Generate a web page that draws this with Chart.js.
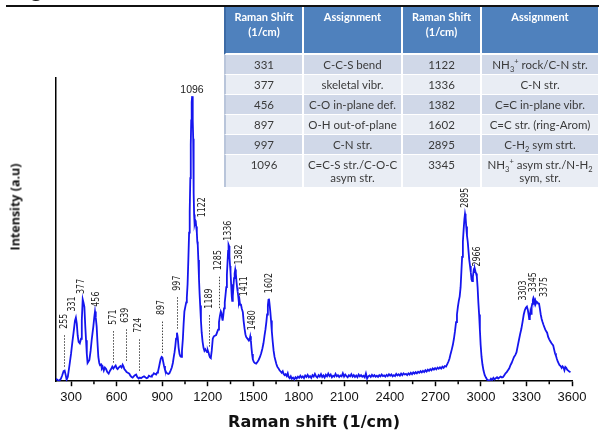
<!DOCTYPE html>
<html>
<head>
<meta charset="utf-8">
<script src="https://cdn.jsdelivr.net/npm/chart.js@4.4.1/dist/chart.umd.min.js"></script>
<style>
  body { margin: 0; background: #fff; }
  #wrap { position: relative; width: 599px; height: 432px; overflow: hidden; background: #fff; }
  #rule { position: absolute; left: 6px; top: 5px; width: 593px; height: 1.5px; background: #111; }
  #frag { position: absolute; left: 31px; top: -21px; font: 20px "Open Sans", sans-serif; line-height: 20px; color: #111; }
  #ytitle { position: absolute; left: 15px; top: 207px; transform: translate(-50%, -50%) rotate(-90deg);
            white-space: nowrap; font: bold 12.5px "Open Sans", sans-serif; color: #111; }
  #tbl { position: absolute; left: 224px; top: 7px; border-collapse: separate; border-spacing: 0; table-layout: fixed; width: 376px;
         font-family: Lato, "Open Sans", sans-serif; }
  #tbl td { padding: 0; text-align: center; vertical-align: top; border-right: 2px solid #fff; border-bottom: 1px solid #fff;
            box-sizing: border-box; }
  #tbl tr.hd { height: 48px; }
  #tbl tr.hd td { background: #4f81bd; color: #fff; font-weight: bold; font-size: 11px; line-height: 15px;
                  padding-top: 2px; border-bottom: 2px solid #fff; }
  #tbl tr.hd td:first-child { border-left: 2px solid #3c6aa5; }
  #tbl tr.b { height: 20px; }
  #tbl tr.b td { color: #3a3a3a; font-size: 11.5px; line-height: 13px; padding-top: 3px; }
  #tbl tr.b td:first-child { border-left: 2px solid #b9c5da; }
  #tbl tr.dk td { background: #d0d8e8; }
  #tbl tr.lt td { background: #e9edf4; }
  #tbl tr.tall { height: 32px; }
  #tbl tr.tall td { border-bottom: 0; }
  sub, sup { font-size: 7.5px; line-height: 0; }
</style>
</head>
<body>
<div id="wrap">
  <canvas id="ramanChart" width="599" height="432"></canvas>
  <div id="rule"></div>
  <span id="frag">g</span>
  <div id="ytitle">Intensity (a.u)</div>
  <table id="tbl">
    <colgroup><col style="width:80px"><col style="width:99px"><col style="width:79px"><col style="width:118px"></colgroup>
    <tr class="hd"><td>Raman Shift<br>(1/cm)</td><td>Assignment</td><td>Raman Shift<br>(1/cm)</td><td>Assignment</td></tr>
    <tr class="b dk"><td>331</td><td>C-C-S bend</td><td>1122</td><td>NH<sub>3</sub><sup>+</sup> rock/C-N str.</td></tr>
    <tr class="b lt"><td>377</td><td>skeletal vibr.</td><td>1336</td><td>C-N str.</td></tr>
    <tr class="b dk"><td>456</td><td>C-O in-plane def.</td><td>1382</td><td>C=C in-plane vibr.</td></tr>
    <tr class="b lt"><td>897</td><td>O-H out-of-plane</td><td>1602</td><td>C=C str. (ring-Arom)</td></tr>
    <tr class="b dk"><td>997</td><td>C-N str.</td><td>2895</td><td>C-H<sub>2</sub> sym strt.</td></tr>
    <tr class="b lt tall"><td>1096</td><td>C=C-S str./C-O-C<br>asym str.</td><td>3345</td><td>NH<sub>3</sub><sup>+</sup> asym str./N-H<sub>2</sub><br>sym, str.</td></tr>
  </table>
</div>

<script>
// ---- data ----
const shifts = [
  200,210,222,232,240,250,257,264,270,278,288,299,308,318,325,331,337,343,349,357,
  365,370,376,381,387,393,398,403,408,414,420,428,435,441,446,452,457,462,468,473,
  479,485,490,497,502,508,515,522,530,538,547,555,563,571,578,585,593,600,606,615,
  624,632,639,645,650,657,665,673,683,690,698,705,712,720,728,735,745,752,760,771,
  780,790,798,804,812,820,826,832,837,845,852,860,866,872,878,884,890,896,901,906,
  912,918,925,932,940,947,955,963,970,976,981,986,991,997,1002,1008,1014,1020,1025,1030,
  1036,1041,1046,1052,1058,1062,1067,1072,1077,1081,1085,1088,1091,1094,1097,1100,1102,1104,1106,1108,
  1110,1112,1115,1118,1121,1124,1128,1131,1134,1138,1142,1146,1150,1155,1160,1166,1172,1178,1184,1190,
  1195,1200,1205,1210,1215,1220,1226,1233,1240,1247,1255,1262,1268,1274,1280,1286,1290,1294,1298,1302,
  1307,1312,1317,1322,1326,1330,1334,1337,1340,1343,1347,1350,1354,1358,1361,1365,1369,1373,1377,1381,
  1385,1389,1393,1397,1401,1405,1409,1413,1418,1424,1431,1436,1442,1448,1453,1459,1465,1471,1476,1480,
  1484,1488,1492,1497,1503,1510,1519,1527,1535,1544,1552,1560,1567,1574,1580,1586,1591,1596,1600,1603,
  1607,1612,1617,1622,1628,1634,1640,1646,1652,1658,1665,1673,1680,1687,1694,1700,1707,1713,1720,1727,
  1733,1740,1747,1754,1762,1770,1778,1786,1794,1802,1810,1818,1826,1834,1842,1850,1858,1866,1874,1882,
  1890,1898,1906,1914,1922,1930,1938,1946,1954,1962,1970,1978,1986,1994,2002,2010,2018,2026,2034,2042,
  2050,2058,2066,2074,2082,2090,2098,2106,2114,2122,2130,2138,2146,2154,2162,2170,2178,2186,2194,2202,
  2210,2218,2226,2234,2242,2250,2258,2266,2274,2282,2290,2298,2306,2314,2322,2330,2338,2346,2354,2362,
  2370,2378,2386,2394,2402,2410,2418,2426,2434,2442,2450,2458,2466,2474,2482,2490,2498,2506,2514,2522,
  2530,2538,2546,2554,2562,2570,2578,2586,2594,2602,2610,2618,2626,2634,2642,2650,2658,2666,2674,2682,
  2690,2698,2706,2714,2722,2730,2738,2746,2754,2762,2770,2778,2786,2793,2800,2808,2815,2822,2829,2836,
  2842,2848,2854,2860,2866,2871,2876,2881,2886,2891,2895,2899,2903,2908,2913,2918,2923,2928,2933,2938,
  2942,2947,2952,2956,2960,2964,2968,2973,2978,2983,2988,2993,2998,3004,3010,3017,3025,3033,3041,3050,
  3058,3066,3074,3082,3090,3098,3106,3114,3122,3130,3138,3146,3154,3162,3170,3178,3186,3194,3202,3210,
  3218,3226,3234,3242,3250,3258,3266,3274,3282,3289,3296,3303,3309,3314,3318,3322,3326,3330,3334,3338,
  3342,3346,3350,3354,3358,3362,3367,3372,3377,3382,3388,3394,3400,3406,3412,3418,3424,3430,3436,3443,
  3450,3457,3464,3470,3476,3482,3488,3494,3500,3506,3512,3518,3525,3532,3538,3544,3550,3556,3562,3568,
  3575,3582,3590
];
const intensity = [
  0.8,0.4,0.2,0.8,1.8,3.3,3.5,2.0,0.5,1.5,5,9,13,17,20,21,19,15,13,12.5,
  14,20,27,26,24.5,18,13.5,9,6,6.5,7,10,13.5,16,18,21,23,21,18,13,
  8,6,5.3,5.5,4.2,4.7,3.5,4.5,4,3.0,2.5,3.4,4,4.8,4.2,4.7,5.2,4.3,4,4.6,
  5,4.5,5.4,4.8,4.0,3.6,3.0,2.8,2.5,1.8,1.4,1.2,1.6,2.0,2.2,1.4,0.9,1.2,1.0,1.4,
  1.6,1.2,1.0,1.1,1.8,1.6,1.5,1.9,2.0,2.6,2.4,2.2,2.8,3.2,4.5,6,7.4,8,7.8,6.5,
  5,3.8,3.0,2.6,2.4,2.6,3.5,4.5,6,8,9.5,11.5,14,16,14.5,11,9,8.2,8,10,
  14,19,23,24.5,26,27.5,32,40,49,56,67,78,86,92,94,91,86,80,70,62,
  55,51.5,52,53,52.6,51,49,46,45,40,34,29,25,20,16,13,11,10,10.5,10,
  9.6,10.2,9.5,8.5,7.8,7.6,10,14,14.8,15,15.2,16.2,17,19.5,21.5,23,22.5,21,20,21.5,
  24,26,28.5,31,35,39,43,45,44.6,41,38,36,32,28,26.5,28,31,34,35.5,36.8,
  35.5,33,31,29.5,28,26,26.8,25.2,25.5,24,22.8,20,17.5,15.5,14.6,14.2,13.8,13.4,13.8,14.8,
  13.5,11,9,7.2,6.4,6,5.8,6.3,7,8,9.2,10.8,12.5,15,17,19.5,22,25,26.8,27.2,
  25.5,23,20,16.5,13,10,8,6.8,5.7,4.8,4.3,3.6,3.2,2.8,3.3,2.4,2.0,2.3,1.7,2.6,
  1.4,1.0,1.6,0.8,1.2,0.6,1.3,0.9,1.5,1.1,1.8,1.2,1.6,1.0,1.9,1.4,2.1,1.3,1.7,1.1,
  2.0,1.5,2.4,1.6,1.2,2.0,1.5,2.3,1.4,1.9,1.2,2.1,1.6,2.5,1.7,2.2,1.3,1.8,1.5,2.4,
  1.6,2.0,1.4,1.9,1.6,2.6,1.5,2.2,1.7,1.3,2.0,1.6,2.3,1.5,2.0,1.4,1.9,1.3,2.2,1.6,
  2.0,1.5,1.8,1.3,2.6,0.9,1.6,1.9,1.4,2.1,1.6,2.0,1.5,1.8,1.4,2.0,1.6,2.2,1.7,1.9,
  1.5,2.1,1.7,2.3,1.8,2.2,1.6,2.0,1.7,2.4,1.9,2.3,1.8,2.5,2.0,2.6,2.2,2.4,2.0,2.6,
  2.2,2.8,2.3,2.9,2.5,3.0,2.6,3.1,2.8,3.3,2.9,3.4,3.0,3.6,3.2,3.8,3.4,4.0,3.6,4.2,
  3.8,4.3,3.9,4.5,4.1,4.6,4.2,4.8,4.4,5.0,4.8,5.6,6.5,7.5,9.0,10.5,12,14,16.5,19.5,
  22,24.5,26.5,28,31,36,41,46,50,53.5,55.2,54,51,48,46,43,40,38,36,33.5,
  33,34.5,36.5,36,37,36.2,35.5,34.5,31,26,22,17,12,8,5.5,3.5,2,1.2,0.5,0.3,
  0.2,0.8,0.4,1.1,0.6,1.0,1.3,0.9,1.2,1.5,1.2,1.4,2.0,2.6,3.0,3.6,4.2,5.2,6.0,7,
  8,8.6,9.5,11.5,13.5,15.5,17.2,19.5,22,23.4,24.2,24.6,23.5,22,20.5,21.2,23,22.2,24.5,25.5,
  26.8,27.5,27,26,26.6,25.6,26.2,26,25.6,25.8,24,22,20.5,19.5,18.6,17.8,17,16.5,16,14.6,
  13.8,13.2,12.6,12.2,11.8,10.5,9.2,8.4,7.4,6.5,5.9,5.3,5.0,4.4,4.9,4.5,3.6,4.7,4.4,3.8,
  3.5,3.2,3.0
];

// peak annotations
const peakLabels = [255, 331, 377, 456, 571, 639, 724, 897, 997, 1122, 1189, 1285, 1336, 1382, 1411, 1480, 1602, 2895, 2966, 3303, 3345, 3375];
const dottedPeaks = [255, 571, 639, 724, 897, 997, 1189, 1285];
const topPeak = 1096;

// x axis ticks
const xTicks = [300, 600, 900, 1200, 1500, 1800, 2100, 2400, 2700, 3000, 3300, 3600];
const xMinorTicks = [450, 750, 1050, 1350, 1650, 1950, 2250, 2550, 2850, 3150, 3450];

// small sideways shifts (px) so labels sit where the original put them
const labelNudge = { 331: -3, 377: -1, 456: 1.5, 571: 1, 639: 3, 724: 3, 1122: 6, 1189: 3, 1285: -2, 1382: 4, 1411: 5,
                     1480: 2, 1602: 1, 2966: 2, 3303: -4, 3375: 7 };

function valueAt(s) {
  for (let i = 0; i < shifts.length - 1; i++) {
    if (s >= shifts[i] && s <= shifts[i + 1]) {
      const t = (s - shifts[i]) / (shifts[i + 1] - shifts[i]);
      return intensity[i] + t * (intensity[i + 1] - intensity[i]);
    }
  }
  return 0;
}

const peakPlugin = {
  id: 'peakPlugin',
  afterDraw(chart) {
    const c = chart.ctx, xs = chart.scales.x, ys = chart.scales.y;
    c.save();

    // minor ticks
    c.strokeStyle = '#000';
    c.lineWidth = 1.5;
    xMinorTicks.forEach(v => {
      const px = xs.getPixelForValue(v);
      c.beginPath();
      c.moveTo(px, ys.bottom);
      c.lineTo(px, ys.bottom + 3);
      c.stroke();
    });

    c.fillStyle = '#222';
    c.font = '10px "Liberation Sans Narrow", "DejaVu Sans Condensed", sans-serif';
    peakLabels.forEach(p => {
      const px = xs.getPixelForValue(p) + (labelNudge[p] || 0);
      const cy = ys.getPixelForValue(valueAt(p));
      let base = cy - 6;
      if (dottedPeaks.includes(p)) {
        c.strokeStyle = '#444';
        c.lineWidth = 1;
        c.setLineDash([1.5, 1.5]);
        c.beginPath();
        c.moveTo(Math.round(px) + 0.5, cy - 4);
        c.lineTo(Math.round(px) + 0.5, cy - 36);
        c.stroke();
        c.setLineDash([]);
        base = cy - 42;
      }
      c.save();
      c.translate(px, base);
      c.rotate(-Math.PI / 2);
      c.scale(0.88, 1); // narrow digits like the original
      c.textAlign = 'left';
      c.textBaseline = 'middle';
      c.fillText(String(p), 0, 0);
      c.restore();
    });

    // label on the top of the main peak
    c.font = '10.5px "Liberation Sans", Arial, sans-serif';
    c.textAlign = 'center';
    c.textBaseline = 'bottom';
    c.fillText(String(topPeak), xs.getPixelForValue(topPeak), ys.getPixelForValue(valueAt(topPeak)) - 3);
    c.restore();
  }
};

const ctx = document.getElementById('ramanChart').getContext('2d');
new Chart(ctx, {
  type: 'line',
  data: {
    datasets: [{
      data: shifts.map((s, i) => ({ x: s, y: intensity[i] })),
      borderColor: '#1515ee',
      borderWidth: 1.8,
      pointRadius: 0,
      tension: 0,
      fill: false
    }]
  },
  options: {
    responsive: false,
    animation: false,
    layout: { padding: { left: 56, right: 27, top: 78, bottom: 0 } },
    plugins: { legend: { display: false }, tooltip: { enabled: false } },
    scales: {
      x: {
        type: 'linear',
        min: 200,
        max: 3600,
        afterBuildTicks: axis => { axis.ticks = xTicks.map(v => ({ value: v })); },
        ticks: {
          color: '#111',
          font: { family: '"Liberation Sans", Arial, sans-serif', size: 13 },
          padding: 3,
          maxRotation: 0,
          autoSkip: false,
          callback: v => String(v)
        },
        grid: { display: true, drawOnChartArea: false, drawTicks: true, tickLength: 5, tickColor: '#000', tickWidth: 1.5 },
        border: { display: true, color: '#000', width: 1.5 },
        title: {
          display: true,
          text: 'Raman shift (1/cm)',
          color: '#111',
          font: { family: '"DejaVu Sans", sans-serif', weight: 'bold', size: 16 },
          padding: { top: 5, bottom: 0 }
        }
      },
      y: {
        min: 0,
        max: 100,
        ticks: { display: false },
        grid: { display: true, drawOnChartArea: false, drawTicks: false },
        border: { display: true, color: '#000', width: 1.5 }
      }
    }
  },
  plugins: [peakPlugin]
});
</script>
</body>
</html>
